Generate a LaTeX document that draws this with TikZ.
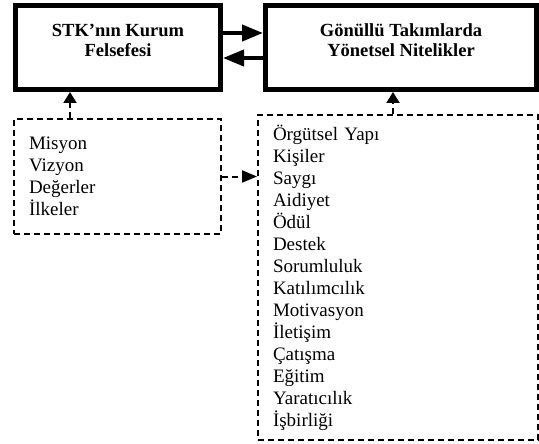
\documentclass[tikz,border=0pt]{standalone}
\usepackage{fontspec}
\setmainfont{Liberation Serif}
\usetikzlibrary{arrows.meta}

\tikzset{
	anakutu/.style={draw, line width=5pt, align=center, text depth=15pt, font=\bfseries\fontsize{18.5}{20}\selectfont},
	liste/.style={draw, line width=2pt, dash pattern=on 6pt off 4pt, align=left, inner xsep=15pt, font=\fontsize{19}{22}\selectfont},
	kalin/.style={line width=4pt, -{Triangle[length=21pt,width=16pt]}},
	kesik/.style={line width=2pt, dash pattern=on 6pt off 4pt, -{Triangle[length=11pt,width=13pt]}}
}

\begin{document}
\begin{tikzpicture}[x=1pt,y=-1pt]
	\useasboundingbox (0,0) rectangle (539,444);

	% nodes
	\node[anakutu, minimum width=205pt, minimum height=84pt] (stk) at (118,47.5) {STK’nın Kurum\\Felsefesi};
	\node[anakutu, minimum width=271pt, minimum height=84pt] (gon) at (401,47.5) {Gönüllü Takımlarda\\Yönetsel Nitelikler};
	\node[liste, text width=177pt, minimum width=207pt, minimum height=115pt] (deger) at (117.5,176.5) {Misyon\\Vizyon\\Değerler\\İlkeler};
	\node[liste, text width=250pt, minimum width=280pt, minimum height=325pt] (nitelik) at (398,277.5) {Örgütsel Yapı\\Kişiler\\Saygı\\Aidiyet\\Ödül\\Destek\\Sorumluluk\\Katılımcılık\\Motivasyon\\İletişim\\Çatışma\\Eğitim\\Yaratıcılık\\İşbirliği};

	%lines
	\draw[kalin] ([yshift=14.5pt]stk.east) -- ([yshift=14.5pt]gon.west);
	\draw[kalin] ([yshift=-10.5pt]gon.west) -- ([yshift=-10.5pt]stk.east);
	\draw[kesik] ([xshift=-47.5pt]deger.north) -- ([xshift=-48pt]stk.south);
	\draw[kesik] ([xshift=-5pt]nitelik.north) -- ([xshift=-8pt]gon.south);
	\draw[kesik, -{Triangle[length=15pt,width=12pt]}] (deger.east) -- (deger.east -| nitelik.west);
\end{tikzpicture}
\end{document}
